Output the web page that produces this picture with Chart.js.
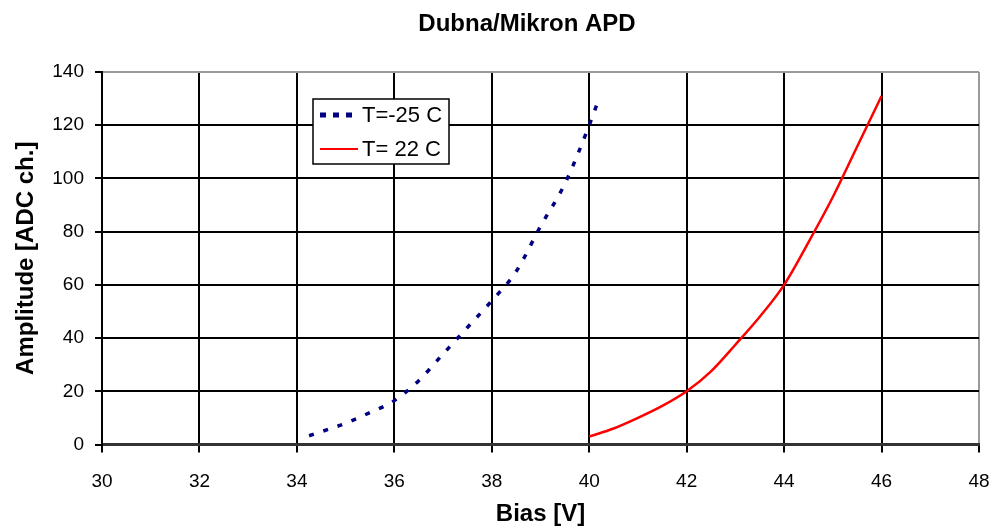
<!DOCTYPE html>
<html>
<head>
<meta charset="utf-8">
<title>Dubna/Mikron APD</title>
<script src="https://cdn.jsdelivr.net/npm/chart.js@4.4.1/dist/chart.umd.min.js"></script>
<style>
  html, body { margin: 0; padding: 0; background: #fff; }
  #wrap { width: 994px; height: 530px; }
</style>
</head>
<body>
<div id="wrap"><canvas id="apdChart" width="994" height="530"></canvas></div>
<script>
// Data
const biasCold = [34.25, 34.5, 35, 35.5, 36, 36.5, 37, 37.5, 38, 38.5, 39, 39.5, 40, 40.2];
const ampCold  = [3.3, 4.8, 8, 12, 16.5, 24, 34, 44, 54, 65, 82, 98, 120, 130];

const biasWarm = [40, 40.5, 41, 41.5, 42, 42.5, 43, 43.5, 44, 44.5, 45, 45.5, 46];
const ampWarm  = [3, 6, 10, 14.5, 20, 27.5, 37.5, 48, 60, 76, 93, 112, 131];

const seriesNames = ['T=-25 C', 'T= 22 C'];
const xRange = [30, 48, 2];
const yRange = [0, 140, 20];

const FONT = '"Liberation Sans", Arial, sans-serif';

function toPoints(xs, ys) {
    return xs.map((x, i) => ({ x: x, y: ys[i] }));
}

// Title drawn over the plot center (Excel style)
const titlePlugin = {
    id: 'plotTitle',
    afterDraw(chart) {
        const c = chart.ctx;
        c.save();
        c.font = 'bold 24px ' + FONT;
        c.fillStyle = '#000';
        c.textAlign = 'center';
        c.textBaseline = 'middle';
        c.fillText('Dubna/Mikron APD', 527, 24);
        c.restore();
    }
};

// Boxed legend sitting inside the plot area
const boxLegend = {
    id: 'boxLegend',
    afterDatasetsDraw(chart) {
        const c = chart.ctx;
        const x = 313, y = 99, w = 136, h = 65;
        c.save();
        c.fillStyle = '#fff';
        c.fillRect(x, y, w, h);
        c.strokeStyle = '#000';
        c.lineWidth = 1.5;
        c.strokeRect(x, y, w, h);
        chart.data.datasets.forEach((ds, i) => {
            const ly = y + 16 + i * 34;
            c.beginPath();
            c.strokeStyle = ds.borderColor;
            if (i === 0) {
                c.lineWidth = 5;
                c.setLineDash([6, 7]);
            } else {
                c.lineWidth = 2;
                c.setLineDash([]);
            }
            c.moveTo(320, ly);
            c.lineTo(358, ly);
            c.stroke();
            c.setLineDash([]);
            c.fillStyle = '#000';
            c.font = '22px ' + FONT;
            c.textBaseline = 'middle';
            c.textAlign = 'left';
            c.fillText(ds.label, 362, ly + 1);
        });
        c.restore();
    }
};

new Chart(document.getElementById('apdChart'), {
    type: 'scatter',
    data: {
        datasets: [
            {
                label: seriesNames[0],
                data: toPoints(biasCold, ampCold),
                showLine: true,
                borderColor: '#000080',
                borderWidth: 3.5,
                borderDash: [5, 10],
                borderCapStyle: 'butt',
                pointRadius: 0,
                cubicInterpolationMode: 'monotone'
            },
            {
                label: seriesNames[1],
                data: toPoints(biasWarm, ampWarm),
                showLine: true,
                borderColor: '#ff0000',
                borderWidth: 2.5,
                pointRadius: 0,
                cubicInterpolationMode: 'monotone'
            }
        ]
    },
    options: {
        responsive: false,
        animation: false,
        layout: { padding: { top: 72, right: 15, left: 0, bottom: 0 } },
        plugins: {
            legend: { display: false },
            title: { display: false },
            tooltip: { enabled: false }
        },
        scales: {
            x: {
                type: 'linear',
                min: xRange[0],
                max: xRange[1],
                ticks: {
                    stepSize: xRange[2],
                    color: '#000',
                    font: { family: FONT, size: 19 },
                    padding: 18
                },
                grid: {
                    color: (ctx) => (ctx.tick && ctx.tick.value === xRange[1]) ? '#9a9a9a' : '#000',
                    lineWidth: 2,
                    tickLength: 8,
                    tickColor: '#000',
                    tickWidth: 2
                },
                border: { color: '#333', width: 3 },
                title: {
                    display: true,
                    text: 'Bias [V]',
                    color: '#000',
                    font: { family: FONT, size: 24, weight: 'bold' },
                    padding: { top: 0, bottom: 1 }
                },
                afterFit(scale) {
                    scale.height = 85.5;
                    scale.paddingLeft = 0;
                    scale.paddingRight = 0;
                }
            },
            y: {
                type: 'linear',
                min: yRange[0],
                max: yRange[1],
                ticks: {
                    stepSize: yRange[2],
                    color: '#000',
                    font: { family: FONT, size: 19 },
                    padding: 11
                },
                grid: {
                    color: (ctx) => (ctx.tick && ctx.tick.value === yRange[1]) ? '#9a9a9a' : '#000',
                    lineWidth: 2,
                    tickLength: 7,
                    tickColor: '#000',
                    tickWidth: 2
                },
                border: { color: '#000', width: 2 },
                title: {
                    display: true,
                    text: 'Amplitude [ADC ch.]',
                    color: '#000',
                    font: { family: FONT, size: 24, weight: 'bold' },
                    padding: { top: 12, bottom: 0 }
                },
                afterFit(scale) { scale.width = 102; }
            }
        }
    },
    plugins: [titlePlugin, boxLegend]
});
</script>
</body>
</html>
